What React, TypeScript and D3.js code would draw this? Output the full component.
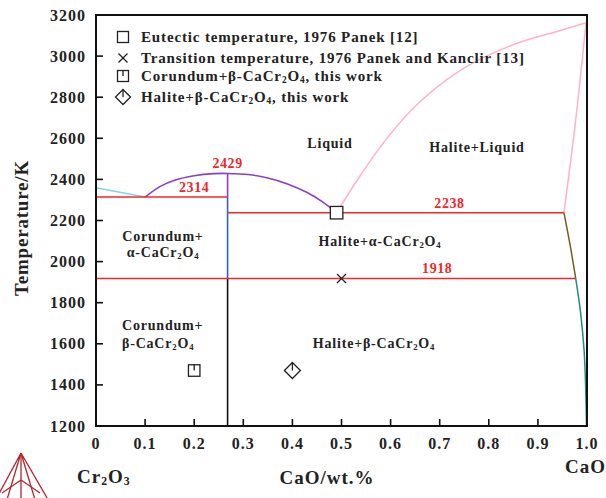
import React from "react";
import * as d3 from "d3";

// Composition axis (CaO mass fraction) and temperature axis ticks
const xTicks = [0, 0.1, 0.2, 0.3, 0.4, 0.5, 0.6, 0.7, 0.8, 0.9, 1.0];
const yTicks = [1200, 1400, 1600, 1800, 2000, 2200, 2400, 2600, 2800, 3000, 3200];

// Invariant temperatures (K)
const T_eutectic1 = 2314;
const T_congruent = 2429;
const T_eutectic2 = 2238;
const T_transition = 1918;
const x_CaCr2O4 = 0.268;

// Phase boundaries: [x, T]
const cr2o3Liquidus: [number, number][] = [
  [0, 2359],
  [0.1, 2314],
];
const caCr2O4Liquidus: [number, number][] = [
  [0.1, 2314],
  [0.13, 2365],
  [0.16, 2396],
  [0.2, 2418],
  [0.24, 2428],
  [0.268, 2429],
  [0.31, 2424],
  [0.35, 2407],
  [0.39, 2378],
  [0.43, 2336],
  [0.46, 2293],
  [0.49, 2238],
];
const haliteLiquidus: [number, number][] = [
  [0.49, 2238],
  [0.537, 2414],
  [0.577, 2551],
  [0.644, 2741],
  [0.746, 2937],
  [0.848, 3054],
  [0.949, 3127],
  [0.998, 3162],
];
const haliteSolidus: [number, number][] = [
  [0.998, 3162],
  [0.977, 2690],
  [0.953, 2238],
];
const haliteSolvusHigh: [number, number][] = [
  [0.953, 2238],
  [0.966, 2075],
  [0.977, 1918],
];
const haliteSolvusLow: [number, number][] = [
  [0.977, 1918],
  [0.987, 1750],
  [0.994, 1571],
  [0.997, 1408],
  [0.999, 1200],
];

// Isotherms: [x start, x end, T]
const isotherms: [number, number, number][] = [
  [0, x_CaCr2O4, T_eutectic1],
  [x_CaCr2O4, 0.953, T_eutectic2],
  [0, 0.977, T_transition],
];

// Isotherm labels
const isothermLabels: { text: string; x: number; T: number }[] = [
  { text: "2429", x: 0.268, T: T_congruent },
  { text: "2314", x: 0.2, T: T_eutectic1 },
  { text: "2238", x: 0.72, T: T_eutectic2 },
  { text: "1918", x: 0.695, T: T_transition },
];

// Experimental points
const eutecticPoint: [number, number] = [0.49, 2238];
const transitionPoint: [number, number] = [0.5, 1918];
const corundumPoint: [number, number] = [0.2, 1470];
const halitePoint: [number, number] = [0.4, 1470];

const legendLabels = [
  "Eutectic temperature, 1976 Panek [12]",
  "Transition temperature, 1976 Panek and Kanclir [13]",
  ["Corundum+β-CaCr", "2", "O", "4", ", this work"],
  ["Halite+β-CaCr", "2", "O", "4", ", this work"],
];

const FONT = "'Liberation Serif', 'Times New Roman', serif";

const W = 606;
const H = 498;
const x = d3.scaleLinear().domain([0, 1]).range([96, 587]);
const y = d3.scaleLinear().domain([1200, 3200]).range([426, 15]);

const line = d3
  .line<[number, number]>()
  .x((d) => x(d[0]))
  .y((d) => y(d[1]));
const smooth = d3
  .line<[number, number]>()
  .x((d) => x(d[0]))
  .y((d) => y(d[1]))
  .curve(d3.curveCatmullRom.alpha(0.5));
const monotone = d3
  .line<[number, number]>()
  .x((d) => x(d[0]))
  .y((d) => y(d[1]))
  .curve(d3.curveMonotoneX);

// Renders text where odd-indexed parts are subscripts
function Formula({ parts, size }: { parts: string[]; size: number }) {
  return (
    <>
      {parts.map((p, i) =>
        i % 2 === 1 ? (
          <tspan key={i} fontSize={size * 0.62} dy={2}>
            {p}
          </tspan>
        ) : (
          <tspan key={i} dy={i === 0 ? 0 : -2}>
            {p}
          </tspan>
        )
      )}
    </>
  );
}

function SquareMark({ cx, cy, s = 12, tick = false }: { cx: number; cy: number; s?: number; tick?: boolean }) {
  return (
    <g stroke="#222" strokeWidth={1.3} fill="#fff">
      <rect x={cx - s / 2} y={cy - s / 2} width={s} height={s} />
      {tick && <line x1={cx} x2={cx} y1={cy - s / 2} y2={cy} />}
    </g>
  );
}

function CrossMark({ cx, cy, s = 10 }: { cx: number; cy: number; s?: number }) {
  const h = s / 2;
  return (
    <g stroke="#222" strokeWidth={1.3}>
      <line x1={cx - h} x2={cx + h} y1={cy - h} y2={cy + h} />
      <line x1={cx - h} x2={cx + h} y1={cy + h} y2={cy - h} />
    </g>
  );
}

function DiamondMark({ cx, cy, s = 16 }: { cx: number; cy: number; s?: number }) {
  const h = s / 2;
  return (
    <g stroke="#222" strokeWidth={1.3} fill="#fff">
      <path d={`M${cx},${cy - h}L${cx + h},${cy}L${cx},${cy + h}L${cx - h},${cy}Z`} />
      <line x1={cx} x2={cx} y1={cy - h} y2={cy} />
    </g>
  );
}

export default function App() {
  const lx = 123;
  const legendY = [37, 58, 76, 97];
  return (
    <svg
      width={W}
      height={H}
      style={{ position: "absolute", left: 0, top: 0, background: "#fff" }}
      fontFamily={FONT}
      fontWeight="bold"
    >
      <rect width={W} height={H} fill="#fff" />

      {/* phase boundaries */}
      <path d={line(cr2o3Liquidus)!} stroke="#86d2e2" strokeWidth={1.5} fill="none" />
      <path d={smooth(caCr2O4Liquidus)!} stroke="#8a3fc8" strokeWidth={1.6} fill="none" />
      <path d={monotone(haliteLiquidus)!} stroke="#ffb3c6" strokeWidth={1.5} fill="none" />
      <path d={smooth(haliteSolidus)!} stroke="#ffb3c6" strokeWidth={1.5} fill="none" />
      <path d={smooth(haliteSolvusHigh)!} stroke="#7a5a1c" strokeWidth={1.5} fill="none" />
      <path d={smooth(haliteSolvusLow)!} stroke="#1f8a86" strokeWidth={1.5} fill="none" />

      {/* CaCr2O4 line compound */}
      <line x1={x(x_CaCr2O4)} x2={x(x_CaCr2O4)} y1={y(T_congruent)} y2={y(T_eutectic1)} stroke="#8a3fc8" strokeWidth={1.6} />
      <line x1={x(x_CaCr2O4)} x2={x(x_CaCr2O4)} y1={y(T_eutectic1)} y2={y(T_transition)} stroke="#2f5fd0" strokeWidth={1.6} />
      <line x1={x(x_CaCr2O4)} x2={x(x_CaCr2O4)} y1={y(T_transition)} y2={y(1200)} stroke="#111" strokeWidth={1.6} />

      {isotherms.map(([a, b, T], i) => (
        <line key={i} x1={x(a)} x2={x(b)} y1={y(T)} y2={y(T)} stroke="#f0282a" strokeWidth={1.6} />
      ))}

      {isothermLabels.map((l, i) => (
        <text key={i} x={x(l.x)} y={y(l.T) - 5} textAnchor="middle" fill="#f0282a" fontSize={14} letterSpacing={0.6}>
          {l.text}
        </text>
      ))}

      {/* markers */}
      <SquareMark cx={x(eutecticPoint[0])} cy={y(eutecticPoint[1])} s={12.5} />
      <CrossMark cx={x(transitionPoint[0])} cy={y(transitionPoint[1])} s={9} />
      <SquareMark cx={x(corundumPoint[0])} cy={y(corundumPoint[1])} s={11.5} tick />
      <DiamondMark cx={x(halitePoint[0])} cy={y(halitePoint[1])} s={16} />

      {/* phase region labels */}
      <g fontSize={14} fill="#222" letterSpacing={0.8}>
        <text x={330} y={148} textAnchor="middle">Liquid</text>
        <text x={477} y={152} textAnchor="middle">Halite+Liquid</text>
        <text x={163} y={241} textAnchor="middle">Corundum+</text>
        <text x={163} y={257} textAnchor="middle">
          <Formula parts={["α-CaCr", "2", "O", "4"]} size={14} />
        </text>
        <text x={380} y={246} textAnchor="middle">
          <Formula parts={["Halite+α-CaCr", "2", "O", "4"]} size={14} />
        </text>
        <text x={122} y={330}>Corundum+</text>
        <text x={122} y={348}>
          <Formula parts={["β-CaCr", "2", "O", "4"]} size={14} />
        </text>
        <text x={374} y={348} textAnchor="middle">
          <Formula parts={["Halite+β-CaCr", "2", "O", "4"]} size={14} />
        </text>
      </g>

      {/* legend */}
      <g fontSize={15} fill="#222" letterSpacing={0.85}>
        <SquareMark cx={lx} cy={legendY[0]} s={11} />
        <CrossMark cx={lx} cy={legendY[1]} s={9} />
        <SquareMark cx={lx} cy={legendY[2]} s={11} tick />
        <DiamondMark cx={lx} cy={legendY[3]} s={15} />
        {legendLabels.map((l, i) => (
          <text key={i} x={141} y={legendY[i] + 5}>
            {typeof l === "string" ? l : <Formula parts={l} size={15} />}
          </text>
        ))}
      </g>

      {/* frame */}
      <rect x={x(0)} y={y(3200)} width={x(1) - x(0)} height={y(1200) - y(3200)} fill="none" stroke="#111" strokeWidth={2} />

      {/* ticks */}
      {xTicks.map((t) => (
        <g key={t}>
          <line x1={x(t)} x2={x(t)} y1={y(1200)} y2={y(1200) - 7} stroke="#111" strokeWidth={1.6} />
          <text x={x(t)} y={449} textAnchor="middle" fontSize={16} fill="#222" letterSpacing={1}>
            {t === 0 ? "0" : t.toFixed(1)}
          </text>
        </g>
      ))}
      {yTicks.map((t) => (
        <g key={t}>
          <line x1={x(0)} x2={x(0) + 7} y1={y(t)} y2={y(t)} stroke="#111" strokeWidth={1.6} />
          <text x={86} y={y(t) + 5.5} textAnchor="end" fontSize={16} fill="#222" letterSpacing={1}>
            {t}
          </text>
        </g>
      ))}

      {/* axis titles */}
      <text
        transform={`translate(28,228) rotate(-90)`}
        textAnchor="middle"
        fontSize={19}
        fill="#222"
        letterSpacing={0.8}
      >
        Temperature/K
      </text>
      <text x={327} y={484} textAnchor="middle" fontSize={19} fill="#222" letterSpacing={1}>
        CaO/wt.%
      </text>
      <text x={77} y={483} fontSize={19} fill="#222" letterSpacing={1}>
        <Formula parts={["Cr", "2", "O", "3"]} size={19} />
      </text>
      <text x={565} y={473} fontSize={19} fill="#222" letterSpacing={1}>
        CaO
      </text>

      {/* logo */}
      <g stroke="#b3262b" strokeWidth={1.3} fill="none">
        <path d="M21,453 L-6,503 M21,453 L50,503 M21,453 L6,503 M21,453 L36,503" />
        <path d="M21,453 L21,480 M21,480 L2,493 M21,480 L40,493 M21,480 L21,498" />
      </g>
    </svg>
  );
}
